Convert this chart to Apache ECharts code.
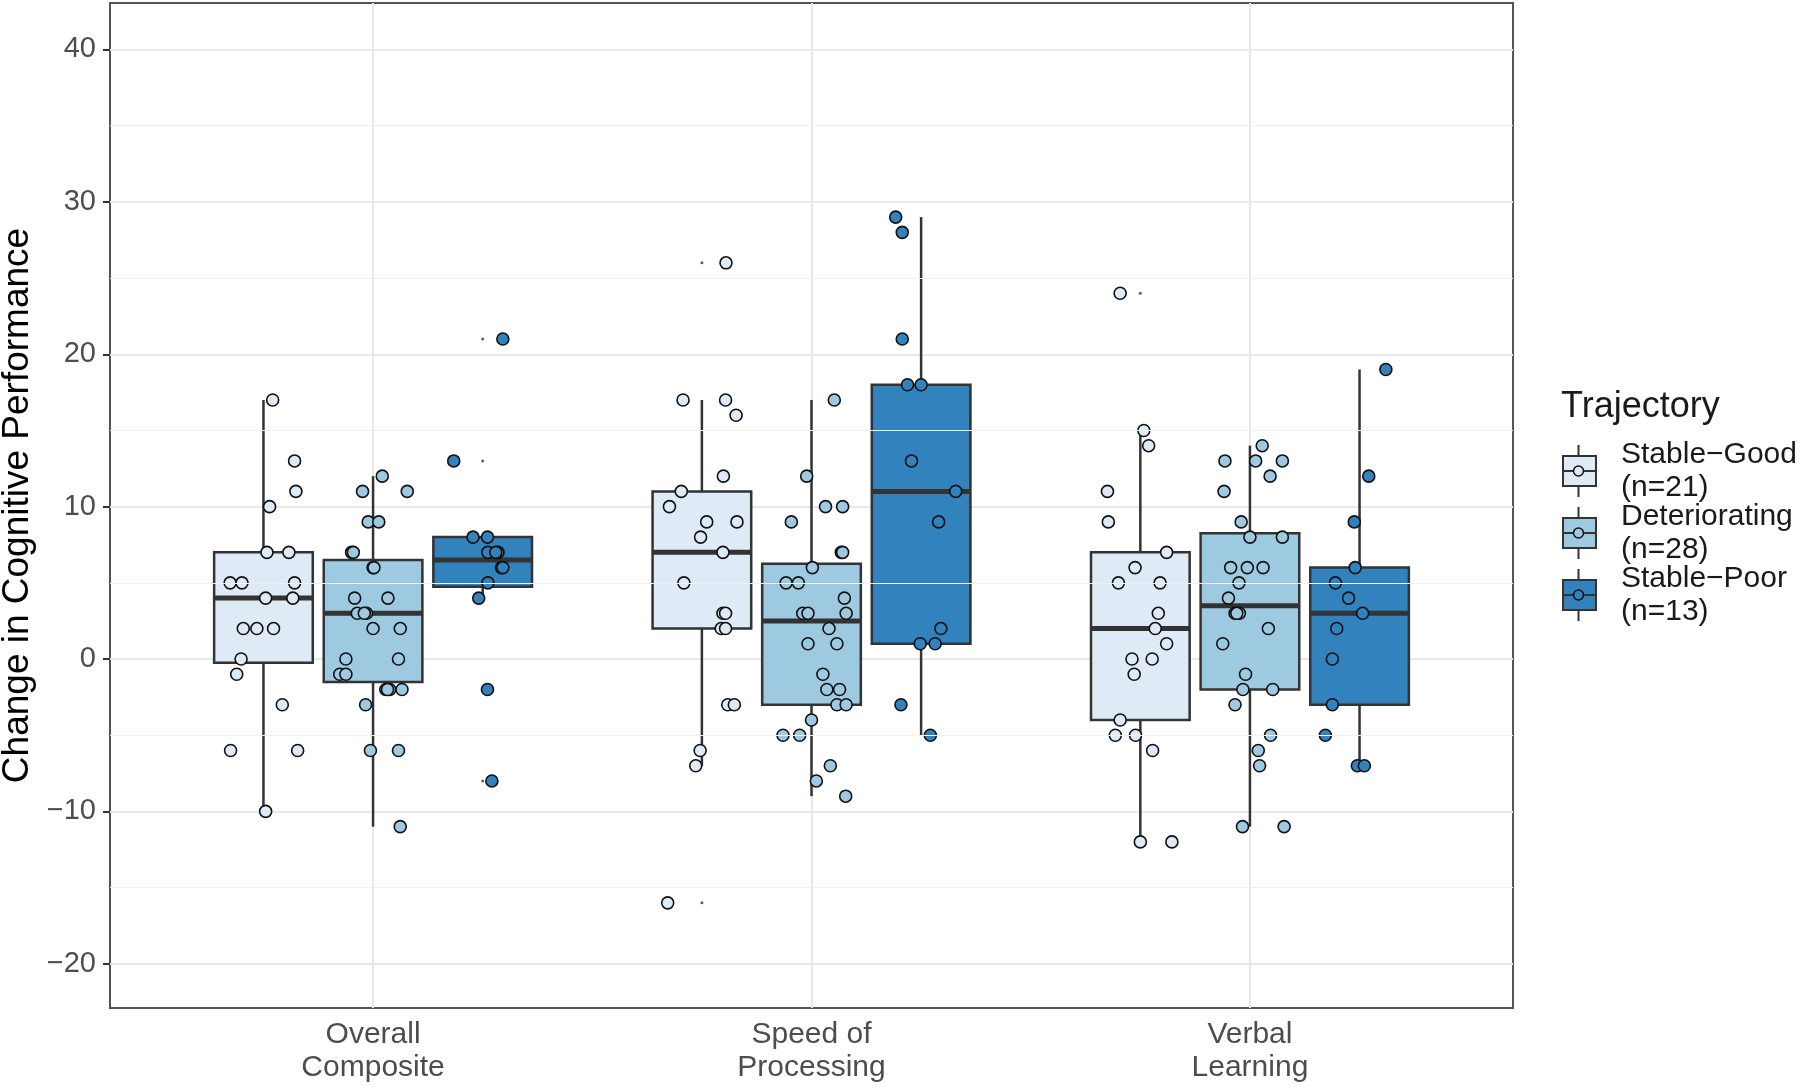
<!DOCTYPE html>
<html>
<head>
<meta charset="utf-8">
<script src="https://cdn.jsdelivr.net/npm/echarts@6/dist/echarts.min.js"></script>
<style>
  html, body { margin: 0; padding: 0; background: #fff; }
  #chart { width: 1800px; height: 1087px; }
</style>
</head>
<body>
<div id="chart"></div>
<script>
// categories and groups
const categories = ['Overall\nComposite', 'Speed of\nProcessing', 'Verbal\nLearning'];
const groupNames = ['Stable−Good', 'Deteriorating', 'Stable−Poor'];
const groupCounts = [21, 28, 13];
const groupColors = ['#deebf7', '#9ecae1', '#3182bd'];
const yTicks = [-20, -10, 0, 10, 20, 30, 40];
const yMinor = [-15, -5, 5, 15, 25, 35];

// box stats per category: [lower whisker, q1, median, q3, upper whisker]
const stableGoodBox = [[-10, -0.25, 4, 7, 17], [-7, 2, 7, 11, 17], [-12, -4, 2, 7, 15]];
const deterioratingBox = [[-11, -1.5, 3, 6.5, 12], [-9, -3, 2.5, 6.25, 17], [-11, -2, 3.5, 8.25, 14]];
const stablePoorBox = [[4, 4.75, 6.5, 8, 8], [-5, 1, 11, 18, 29], [-7, -3, 3, 6, 19]];

// boxplot outliers (small dots)
const stableGoodOut = [[], [26, -16], [24]];
const deterioratingOut = [[], [], []];
const stablePoorOut = [[21, 13, -2, -8], [], []];

// jittered points per category: [value, horizontal jitter]
const stableGoodPts = [
  [[17, .021], [13, .071], [11, .074], [10, .014], [7, .008], [7, .058], [5, -.076], [5, -.049], [5, .071], [4, .005],
   [4, .067], [2, -.046], [2, -.015], [2, .023], [0, -.051], [-1, -.061], [-3, .043], [-6, -.075], [-6, .078], [-10, .005]],
  [[26, .055], [17, -.043], [17, .054], [16, .078], [12, .049], [11, -.047], [10, -.074], [9, .011], [9, .08], [8, -.003],
   [7, .048], [5, -.041], [3, .048], [3, .054], [2, .044], [2, .054], [-3, .059], [-3, .074], [-6, -.004], [-7, -.014], [-16, -.078]],
  [[24, -.046], [15, .008], [14, .019], [11, -.075], [9, -.073], [7, .06], [6, -.012], [5, -.05], [5, .045], [3, .041],
   [2, .034], [1, .06], [0, -.019], [0, .027], [-1, -.014], [-4, -.046], [-5, -.057], [-5, -.011], [-6, .028], [-12, 0], [-12, .072]]
];
const deterioratingPts = [
  [[12, .021], [11, -.024], [11, .078], [9, -.011], [9, .013], [7, -.049], [7, -.045], [6, 0], [6, .002], [4, -.042],
   [4, .034], [3, -.036], [3, -.015], [3, -.02], [2, 0], [2, .062], [0, -.062], [0, .058], [-1, -.076], [-1, -.062],
   [-2, .029], [-2, .038], [-2, .066], [-2, .033], [-3, -.017], [-6, -.006], [-6, .058], [-11, .062]],
  [[17, .052], [12, -.011], [10, .032], [10, .071], [9, -.046], [7, .068], [7, .071], [6, .002], [5, -.058], [5, -.03],
   [4, .075], [3, -.02], [3, -.008], [3, .079], [2, .04], [1, -.008], [1, .058], [-1, .026], [-2, .035], [-2, .064],
   [-3, .058], [-3, .079], [-4, 0], [-5, -.065], [-5, -.027], [-7, .043], [-8, .011], [-9, .078]],
  [[14, .028], [13, -.057], [13, .013], [13, .074], [12, .046], [11, -.059], [9, -.02], [8, 0], [8, .074], [6, -.044],
   [6, -.006], [6, .03], [5, -.025], [4, -.049], [3, -.034], [3, -.024], [3, -.03], [2, .042], [1, -.062], [-1, -.01],
   [-2, -.016], [-2, .052], [-3, -.034], [-5, .047], [-6, .019], [-7, .022], [-11, -.017], [-11, .078]]
];
const stablePoorPts = [
  [[21, .046], [13, -.066], [8, -.022], [8, .011], [7, .012], [7, .035], [7, .03], [6, .043], [6, .046], [5, .012],
   [4, -.009], [-2, .011], [-8, .021]],
  [[29, -.058], [28, -.043], [21, -.043], [18, -.031], [18, 0], [13, -.022], [11, .079], [9, .04], [2, .045], [1, -.002],
   [1, .032], [-3, -.046], [-5, .021]],
  [[19, .06], [12, .021], [9, -.012], [6, -.01], [5, -.055], [4, -.025], [3, .007], [2, -.052], [0, -.062], [-3, -.062],
   [-5, -.078], [-7, -.005], [-7, .011]]
];

const boxes = [stableGoodBox, deterioratingBox, stablePoorBox];
const outs = [stableGoodOut, deterioratingOut, stablePoorOut];
const pts = [stableGoodPts, deterioratingPts, stablePoorPts];

const dodge = [-0.25, 0, 0.25];
const BOX_HALF = 0.1125;
const FONT = '"Liberation Sans", Arial, sans-serif';
const INK = '#333333';

function renderBox(params, api) {
  const x = api.value(0);
  const lo = api.value(1), q1 = api.value(2), med = api.value(3), q3 = api.value(4), hi = api.value(5);
  const tl = api.coord([x - BOX_HALF, q3]);
  const br = api.coord([x + BOX_HALF, q1]);
  const top = api.coord([x, hi]);
  const bot = api.coord([x, lo]);
  const mid = api.coord([x, med]);
  const line = { stroke: INK, lineWidth: 2.5 };
  return {
    type: 'group',
    children: [
      { type: 'line', shape: { x1: top[0], y1: top[1], x2: top[0], y2: tl[1] }, style: line },
      { type: 'line', shape: { x1: bot[0], y1: br[1], x2: bot[0], y2: bot[1] }, style: line },
      { type: 'rect', shape: { x: tl[0], y: tl[1], width: br[0] - tl[0], height: br[1] - tl[1] },
        style: { fill: api.visual('color'), stroke: INK, lineWidth: 2.5 } },
      { type: 'line', shape: { x1: tl[0], y1: mid[1], x2: br[0], y2: mid[1] }, style: { stroke: INK, lineWidth: 5 } }
    ]
  };
}

const series = [{
  type: 'scatter', name: 'grid', data: [], z: 1, silent: true,
  markLine: {
    silent: true, symbol: ['none', 'none'], label: { show: false },
    lineStyle: { color: '#f0f0f0', width: 1.2, type: 'solid' },
    data: yMinor.map(v => ({ yAxis: v }))
  }
}];

groupNames.forEach((g, gi) => {
  series.push({
    type: 'custom', name: g, z: 2, color: groupColors[gi],
    renderItem: renderBox,
    encode: { x: 0, y: [1, 2, 3, 4, 5] },
    data: boxes[gi].map((s, ci) => [ci + 1 + dodge[gi]].concat(s))
  });
  const o = [];
  outs[gi].forEach((arr, ci) => arr.forEach(v => o.push([ci + 1 + dodge[gi], v])));
  series.push({
    type: 'scatter', name: g, z: 3, symbolSize: 3, color: groupColors[gi],
    itemStyle: { color: INK },
    data: o
  });
  const p = [];
  pts[gi].forEach((arr, ci) => arr.forEach(d => p.push([ci + 1 + dodge[gi] + d[1], d[0]])));
  series.push({
    type: 'scatter', name: g, z: 4, symbolSize: 12, color: groupColors[gi],
    itemStyle: { color: groupColors[gi], borderColor: '#111', borderWidth: 1.6, opacity: 1 },
    data: p
  });
});

// legend key decorations (whiskers, median, point) on top of the legend rects
const keyX = 1562, keyW = 33, keyTop = 456, keyH = 30, keyStep = 62, textLH = 33;
const legendDeco = [];
groupColors.forEach((c, i) => {
  const cy = keyTop + keyH / 2 + i * keyStep;
  const cx = keyX + keyW / 2;
  legendDeco.push(
    { type: 'line', shape: { x1: cx, y1: cy - keyH / 2 - 11, x2: cx, y2: cy - keyH / 2 }, style: { stroke: INK, lineWidth: 2 }, z: 100 },
    { type: 'line', shape: { x1: cx, y1: cy + keyH / 2, x2: cx, y2: cy + keyH / 2 + 11 }, style: { stroke: INK, lineWidth: 2 }, z: 100 },
    { type: 'line', shape: { x1: keyX, y1: cy, x2: keyX + keyW, y2: cy }, style: { stroke: INK, lineWidth: 2 }, z: 100 },
    { type: 'circle', shape: { cx: cx, cy: cy, r: 5 }, style: { fill: c, stroke: '#111', lineWidth: 1.5 }, z: 101 }
  );
});

const chart = echarts.init(document.getElementById('chart'), null, { renderer: 'canvas' });
chart.setOption({
  animation: false,
  backgroundColor: '#fff',
  textStyle: { fontFamily: FONT },
  title: {
    text: 'Trajectory', left: 1556, top: 384,
    textStyle: { fontSize: 36, fontWeight: 'normal', color: '#1a1a1a', fontFamily: FONT }
  },
  legend: {
    orient: 'vertical', left: keyX, top: keyTop - (2 * textLH - keyH) / 2, padding: 0,
    itemGap: keyStep - 2 * textLH,
    itemWidth: keyW, itemHeight: keyH, icon: 'rect', selectedMode: false,
    itemStyle: { borderColor: INK, borderWidth: 2 },
    data: groupNames.map((g, i) => ({ name: g, itemStyle: { color: groupColors[i] } })),
    formatter: name => name + '\n(n=' + groupCounts[groupNames.indexOf(name)] + ')',
    textStyle: { fontSize: 30, lineHeight: textLH, color: '#1a1a1a', fontFamily: FONT, padding: [0, 0, 0, 20] }
  },
  graphic: legendDeco,
  grid: {
    left: 110, right: 287, top: 3, bottom: 79,
    show: true, borderColor: '#555', borderWidth: 2, backgroundColor: '#fff',
    containLabel: false, outerBoundsMode: 'none'
  },
  xAxis: {
    type: 'value', min: 0.4, max: 3.6,
    axisLine: { show: false },
    axisTick: { show: true, customValues: [1, 2, 3], length: 7, lineStyle: { color: INK, width: 2 } },
    axisLabel: {
      customValues: [1, 2, 3], margin: 10,
      formatter: v => categories[Math.round(v) - 1],
      fontSize: 30, lineHeight: 33, color: '#4d4d4d', fontFamily: FONT
    },
    splitLine: { show: true, lineStyle: { color: '#e8e8e8', width: 2 } }
  },
  yAxis: {
    type: 'value', min: -22.9, max: 43.05,
    name: 'Change in Cognitive Performance', nameLocation: 'middle', nameGap: 74,
    nameTextStyle: { fontSize: 37, color: '#000', fontFamily: FONT },
    axisLine: { show: false },
    axisTick: { show: true, customValues: yTicks, length: 7, lineStyle: { color: INK, width: 2 } },
    axisLabel: {
      customValues: yTicks, margin: 14,
      formatter: v => (v < 0 ? '−' + Math.abs(v) : String(v)),
      fontSize: 29, color: '#4d4d4d', fontFamily: FONT
    },
    splitLine: { show: true, lineStyle: { color: '#e8e8e8', width: 2 } }
  },
  series: series
});
</script>
</body>
</html>
